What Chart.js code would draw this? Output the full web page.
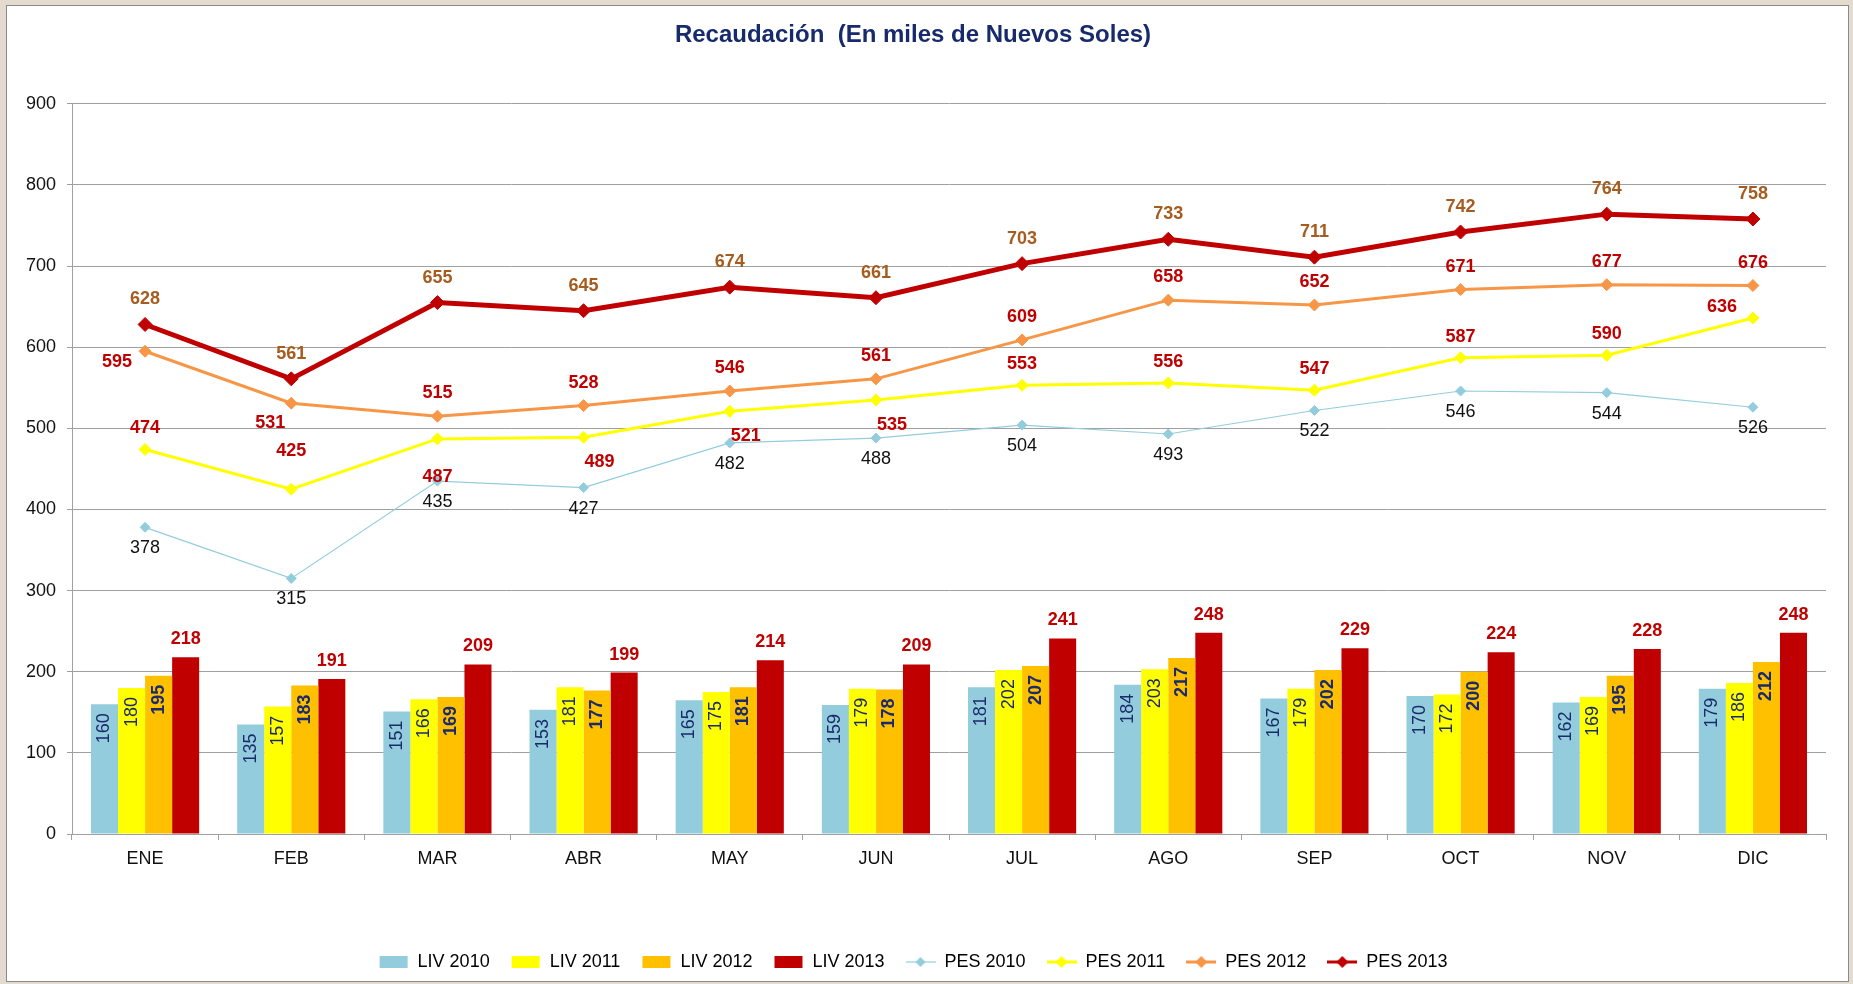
<!DOCTYPE html>
<html>
<head>
<meta charset="utf-8">
<title>Recaudación</title>
<script src="https://cdn.jsdelivr.net/npm/chart.js@4.4.1/dist/chart.umd.min.js"></script>
<style>
  html, body { margin: 0; padding: 0; background: #e3dbcd; }
  .frame { position: absolute; left: 6px; top: 5px; width: 1841px; height: 975px; background: #fff; border: 1px solid #8a8a8a; }
  .wrap { position: absolute; left: 0; top: 0; width: 1853px; height: 984px; }
</style>
</head>
<body>
<div class="frame"></div>
<div class="wrap"><canvas id="recaudacionChart"></canvas></div>
<script>
// months and values (miles de Nuevos Soles)
const months = ["ENE", "FEB", "MAR", "ABR", "MAY", "JUN", "JUL", "AGO", "SEP", "OCT", "NOV", "DIC"];

const liv2010 = [160, 135, 151, 153, 165, 159, 181, 184, 167, 170, 162, 179];
const liv2011 = [180, 157, 166, 181, 175, 179, 202, 203, 179, 172, 169, 186];
const liv2012 = [195, 183, 169, 177, 181, 178, 207, 217, 202, 200, 195, 212];
const liv2013 = [218, 191, 209, 199, 214, 209, 241, 248, 229, 224, 228, 248];

const pes2010 = [378, 315, 435, 427, 482, 488, 504, 493, 522, 546, 544, 526];
const pes2011 = [474, 425, 487, 489, 521, 535, 553, 556, 547, 587, 590, 636];
const pes2012 = [595, 531, 515, 528, 546, 561, 609, 658, 652, 671, 677, 676];
const pes2013 = [628, 561, 655, 645, 674, 661, 703, 733, 711, 742, 764, 758];

const yTicks = [0, 100, 200, 300, 400, 500, 600, 700, 800, 900];

// where each line label sits relative to its point (like the excel chart)
const pes2011LabelPos = ["above", "high", "low", "belowRight", "belowRight", "belowRight",
  "above", "above", "above", "above", "above", "aboveLeft"];
const pes2012LabelPos = ["left", "belowLeft", "above", "above", "above", "above",
  "above", "above", "above", "above", "above", "above"];

const FONT = '"Liberation Sans", Arial, sans-serif';
const NAVY = "#1b2a6b";
const RED = "#c00000";

// label look for each dataset, same order as datasets
const labelStyles = [
  { mode: "inside", color: NAVY, bold: false },
  { mode: "inside", color: NAVY, bold: false },
  { mode: "inside", color: NAVY, bold: true },
  { mode: "top", color: RED, bold: true },
  { mode: "point", color: "#111", bold: false, dist: 21 },
  { mode: "point", color: RED, bold: true, dist: -21, pos: pes2011LabelPos },
  { mode: "point", color: RED, bold: true, dist: -23, pos: pes2012LabelPos },
  { mode: "point", color: "#a65c1e", bold: true, dist: -25 },
];

function labelOffset(pos, dist) {
  switch (pos) {
    case "high": return [0, -38];
    case "low": return [0, 38];
    case "left": return [-28, 11];
    case "belowLeft": return [-21, 20];
    case "belowRight": return [16, 25];
    case "aboveLeft": return [-31, -11];
    default: return [0, dist];
  }
}

const valueLabels = {
  id: "valueLabels",
  afterDatasetsDraw(chart) {
    const ctx = chart.ctx;
    ctx.save();
    chart.data.datasets.forEach((ds, i) => {
      const st = labelStyles[i];
      const meta = chart.getDatasetMeta(i);
      ctx.font = (st.bold ? "bold " : "") + "18px " + FONT;
      ctx.fillStyle = st.color;
      meta.data.forEach((el, j) => {
        const text = String(ds.data[j]);
        if (st.mode === "inside") {
          ctx.save();
          ctx.translate(el.x, el.y + 9);
          ctx.rotate(-Math.PI / 2);
          ctx.textAlign = "right";
          ctx.textBaseline = "middle";
          ctx.fillText(text, 0, 0);
          ctx.restore();
        } else if (st.mode === "top") {
          ctx.textAlign = "center";
          ctx.textBaseline = "middle";
          ctx.fillText(text, el.x, el.y - 18);
        } else {
          const [dx, dy] = labelOffset(st.pos ? st.pos[j] : "", st.dist);
          ctx.textAlign = "center";
          ctx.textBaseline = "middle";
          ctx.fillText(text, el.x + dx, el.y + dy);
        }
      });
    });
    ctx.restore();
  },
};

// small pictures for the legend: box for bars, line + diamond for lines
function makeSymbol(kind, color, lineWidth, r) {
  const c = document.createElement("canvas");
  c.width = 30;
  c.height = 18;
  const g = c.getContext("2d");
  g.fillStyle = color;
  g.strokeStyle = color;
  if (kind === "bar") {
    g.fillRect(1, 3, 28, 12);
  } else {
    g.lineWidth = lineWidth;
    g.beginPath();
    g.moveTo(0, 9);
    g.lineTo(30, 9);
    g.stroke();
    g.beginPath();
    g.moveTo(15 - r, 9);
    g.lineTo(15, 9 - r);
    g.lineTo(15 + r, 9);
    g.lineTo(15, 9 + r);
    g.closePath();
    g.fill();
  }
  return c;
}

function barSet(label, data, color) {
  return {
    type: "bar",
    label: label,
    data: data,
    backgroundColor: color,
    borderWidth: 0,
    barPercentage: 1,
    categoryPercentage: 0.74,
    order: 10,
    symbol: makeSymbol("bar", color),
  };
}

function lineSet(label, data, color, width, radius, order) {
  return {
    type: "line",
    label: label,
    data: data,
    borderColor: color,
    backgroundColor: color,
    borderWidth: width,
    pointStyle: "rectRot",
    pointRadius: radius,
    pointBackgroundColor: color,
    pointBorderColor: color,
    pointBorderWidth: 1,
    tension: 0,
    fill: false,
    order: order,
    symbol: makeSymbol("line", color, Math.min(width, 3), Math.min(radius, 6)),
  };
}

const ctx = document.getElementById("recaudacionChart").getContext("2d");

new Chart(ctx, {
  data: {
    labels: months,
    datasets: [
      barSet("LIV 2010", liv2010, "#93cddd"),
      barSet("LIV 2011", liv2011, "#ffff00"),
      barSet("LIV 2012", liv2012, "#ffc000"),
      barSet("LIV 2013", liv2013, "#c00000"),
      lineSet("PES 2010", pes2010, "#93cddd", 1.2, 5, 4),
      lineSet("PES 2011", pes2011, "#ffff00", 3, 6, 3),
      lineSet("PES 2012", pes2012, "#f79646", 3, 6, 2),
      lineSet("PES 2013", pes2013, "#c00000", 5, 7, 1),
    ],
  },
  plugins: [valueLabels],
  options: {
    responsive: true,
    maintainAspectRatio: false,
    animation: false,
    layout: {
      padding: { top: 0, right: 27, bottom: 3, left: 0 },
    },
    scales: {
      x: {
        grid: {
          drawOnChartArea: false,
          drawTicks: true,
          tickLength: 6,
          color: "#a0a0a0",
        },
        border: { display: true, color: "#a0a0a0" },
        ticks: {
          color: "#111",
          font: { family: FONT, size: 18 },
          padding: 8,
        },
        afterFit: (scale) => { scale.height = 98; },
      },
      y: {
        min: 0,
        max: 900,
        afterBuildTicks: (scale) => { scale.ticks = yTicks.map((v) => ({ value: v })); },
        grid: {
          color: "#a0a0a0",
          tickLength: 5,
        },
        border: { display: true, color: "#a0a0a0" },
        ticks: {
          color: "#111",
          font: { family: FONT, size: 18 },
          padding: 11,
        },
        afterFit: (scale) => { scale.width = 72; },
      },
    },
    plugins: {
      title: {
        display: true,
        text: "Recaudación  (En miles de Nuevos Soles)",
        color: "#172a6b",
        font: { family: FONT, size: 24, weight: "bold" },
        padding: { top: 21, bottom: 54 },
      },
      legend: {
        position: "bottom",
        labels: {
          color: "#111",
          font: { family: FONT, size: 18 },
          usePointStyle: true,
          pointStyleWidth: 30,
          padding: 21,
          generateLabels: (chart) => chart.data.datasets.map((ds, i) => ({
            text: ds.label,
            fillStyle: ds.backgroundColor,
            strokeStyle: ds.backgroundColor,
            lineWidth: 0,
            pointStyle: ds.symbol,
            hidden: false,
            datasetIndex: i,
          })),
        },
      },
      tooltip: { enabled: false },
    },
  },
});
</script>
</body>
</html>
